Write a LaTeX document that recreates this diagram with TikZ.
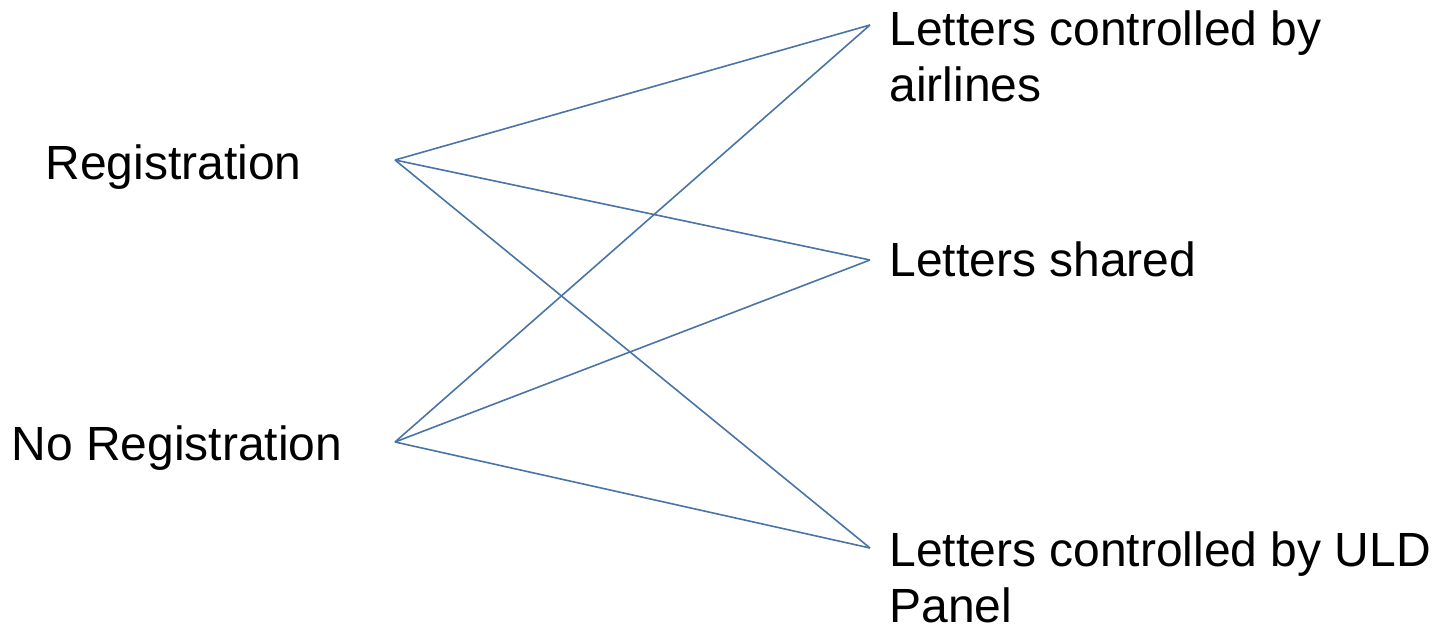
\documentclass[tikz,border=0pt]{standalone}
\usepackage{fontspec}
\setmainfont{Liberation Sans}
\definecolor{linkblue}{HTML}{4A74A6}
\begin{document}
\begin{tikzpicture}[x=0.5pt,y=-0.5pt,
  lbl/.style={inner sep=0pt, anchor=base west, align=left,
    font=\fontsize{24pt}{28pt}\selectfont},
  link/.style={draw=linkblue, line width=0.8pt}]
\useasboundingbox (0,0) rectangle (1441,631);
% labels
\node[lbl] (reg) at (45,179) {Registration};
\node[lbl] (noreg) at (11,460) {No Registration};
\node[lbl] (air) at (889,46) {Letters controlled by};
\node[lbl] (air2) at (889,102) {airlines};
\node[lbl] (shared) at (889,276) {Letters shared};
\node[lbl] (uld) at (889,566) {Letters controlled by ULD};
\node[lbl] (uld2) at (889,622) {Panel};
% connector ends
\coordinate (pr) at (395,160);
\coordinate (pn) at (395,442);
\coordinate (qa) at (870,25);
\coordinate (qs) at (870,260);
\coordinate (qu) at (870,548);
% links
\draw[link] (pr) -- (qa);
\draw[link] (pr) -- (qs);
\draw[link] (pr) -- (qu);
\draw[link] (pn) -- (qa);
\draw[link] (pn) -- (qs);
\draw[link] (pn) -- (qu);
\end{tikzpicture}
\end{document}
